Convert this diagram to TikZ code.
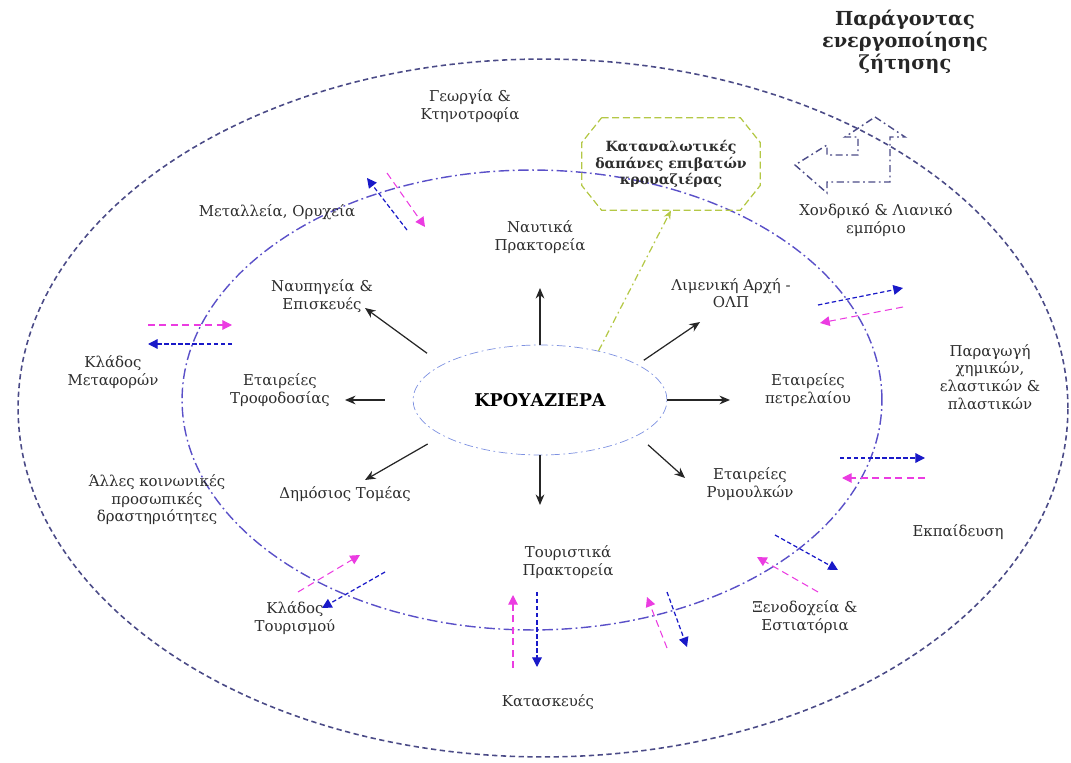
\documentclass[tikz,border=0pt]{standalone}
\usepackage{fontspec}
\setmainfont{DejaVu Serif}
\usepackage{tikz}
\usetikzlibrary{arrows.meta}
\usetikzlibrary{shapes}
\definecolor{navyline}{RGB}{75,75,135}
\definecolor{ringblue}{RGB}{90,80,200}
\definecolor{coreblue}{RGB}{125,145,225}
\definecolor{arrowblue}{RGB}{25,25,200}
\definecolor{arrowpink}{RGB}{235,60,225}
\definecolor{spendgreen}{RGB}{180,200,70}
\definecolor{textgray}{RGB}{45,45,45}
\tikzset{
  lbl/.style={align=center, text=textgray, inner sep=1pt,
    font=\fontsize{8.5}{10}\selectfont},
  hub/.style={ellipse, draw=coreblue, dash pattern=on 5pt off 2pt on 1pt off 2pt,
    minimum width=5.08cm, minimum height=2.2cm, inner sep=0pt,
    font=\bfseries\fontsize{10}{12}\selectfont},
  ray/.style={-{Stealth[length=6pt,width=5pt]}, line width=0.7pt, black!85},
  bluearr/.style={-{Triangle[length=5.5pt,width=5.5pt]}, arrowblue,
    dash pattern=on 2.5pt off 1.5pt, line width=0.7pt},
  pinkarr/.style={-{Triangle[length=5.5pt,width=5.5pt]}, arrowpink,
    dash pattern=on 4pt off 2.5pt, line width=0.6pt}
}
\begin{document}
\begin{tikzpicture}[x=0.02cm,y=-0.02cm]
\useasboundingbox (0,0) rectangle (1071,763);
\draw [navyline, line width=0.9pt, dash pattern=on 3pt off 2pt]
  (543,408) ellipse [x radius=10.5cm, y radius=6.98cm];
\draw [ringblue, line width=0.8pt, dash pattern=on 6pt off 2pt on 1pt off 2pt]
  (532,400) ellipse [x radius=7cm, y radius=4.6cm];
\node [hub] (hub) at (540,400) {ΚΡΟΥΑΖΙΕΡΑ};
\foreach \a/\hx/\hy/\s in {north/540/288/0, 160/365/308/0.38, west/345/400/0.56,
  200/365/480/0.34, south/540/505/0, -20/685/478/0.28, east/730/400/0, 20/700/322/0.15} {
  \coordinate (tip\a) at (\hx,\hy);
  \draw [ray, shorten <=\s cm] (hub.\a) -- (tip\a);
}
\node [minimum width=3.56cm, minimum height=1.84cm, align=center, text=textgray,
  font=\bfseries\fontsize{8}{9.5}\selectfont] (spend) at (671,164)
  {Καταναλωτικές\\δαπάνες επιβατών\\κρουαζιέρας};
\draw [spendgreen, line width=0.7pt, dash pattern=on 4pt off 2pt]
  ([xshift=0.4cm]spend.north west) -- ([xshift=-0.4cm]spend.north east)
  -- ([yshift=-0.5cm]spend.north east) -- ([yshift=0.5cm]spend.south east)
  -- ([xshift=-0.4cm]spend.south east) -- ([xshift=0.4cm]spend.south west)
  -- ([yshift=0.5cm]spend.south west) -- ([yshift=-0.5cm]spend.north west) -- cycle;
\draw [spendgreen, line width=0.7pt, dash pattern=on 4pt off 2pt on 1pt off 2pt,
  -{Stealth[length=5pt,width=4pt]}] (hub.40) -- (spend.south);
\draw [navyline, line width=0.8pt, dash pattern=on 4pt off 2pt on 1pt off 2pt]
  (875,117) -- (905,137) -- (890,137) -- (890,182) -- (827,182) -- (827,193)
  -- (795,165) -- (827,145) -- (827,155) -- (858,155) -- (858,137) -- (845,137) -- cycle;
\foreach \i/\ax/\ay/\bx/\by in {1/407/230/367/178, 2/232/344/148/344, 3/818/305/903/288,
  4/840/458/925/458, 5/775/535/838/570, 6/667/592/687/647, 7/537/592/537/667, 8/385/572/322/608} {
  \coordinate (bt\i) at (\ax,\ay);
  \coordinate (bh\i) at (\bx,\by);
  \draw [bluearr] (bt\i) -- (bh\i);
}
\foreach \i/\ax/\ay/\bx/\by in {1/387/173/425/227, 2/148/325/232/325, 3/903/307/820/323,
  4/925/478/842/478, 5/818/592/757/557, 6/667/648/647/597, 7/513/668/513/595, 8/298/592/360/555} {
  \coordinate (pt\i) at (\ax,\ay);
  \coordinate (ph\i) at (\bx,\by);
  \draw [pinkarr] (pt\i) -- (ph\i);
}
\node [lbl] (agri) at (470,106) {Γεωργία \&\\Κτηνοτροφία};
\node [lbl] (mines) at (277,212) {Μεταλλεία, Ορυχεία};
\node [lbl] (naut) at (540,237) {Ναυτικά\\Πρακτορεία};
\node [lbl] (yard) at (322,296) {Ναυπηγεία \&\\Επισκευές};
\node [lbl] (port) at (731,293) {Λιμενική Αρχή -\\ΟΛΠ};
\node [lbl] (trans) at (113,372) {Κλάδος\\Μεταφορών};
\node [lbl] (supply) at (280,390) {Εταιρείες\\Τροφοδοσίας};
\node [lbl] (oil) at (808,390) {Εταιρείες\\πετρελαίου};
\node [lbl] (chem) at (990,377) {Παραγωγή\\χημικών,\\ελαστικών \&\\πλαστικών};
\node [lbl] (public) at (345,494) {Δημόσιος Τομέας};
\node [lbl] (tugs) at (750,484) {Εταιρείες\\Ρυμουλκών};
\node [lbl] (social) at (157,500) {Άλλες κοινωνικές\\προσωπικές\\δραστηριότητες};
\node [lbl] (edu) at (958,532) {Εκπαίδευση};
\node [lbl] (tour) at (568,562) {Τουριστικά\\Πρακτορεία};
\node [lbl] (tourism) at (295,618) {Κλάδος\\Τουρισμού};
\node [lbl] (hotel) at (805,617) {Ξενοδοχεία \&\\Εστιατόρια};
\node [lbl] (build) at (548,702) {Κατασκευές};
\node [lbl] (trade) at (876,220) {Χονδρικό \& Λιανικό\\εμπόριο};
\node [lbl, font=\bfseries\fontsize{11}{12.5}\selectfont, text=black!85] (driver) at (905,42)
  {Παράγοντας\\ενεργοποίησης\\ζήτησης};
\end{tikzpicture}
\end{document}
